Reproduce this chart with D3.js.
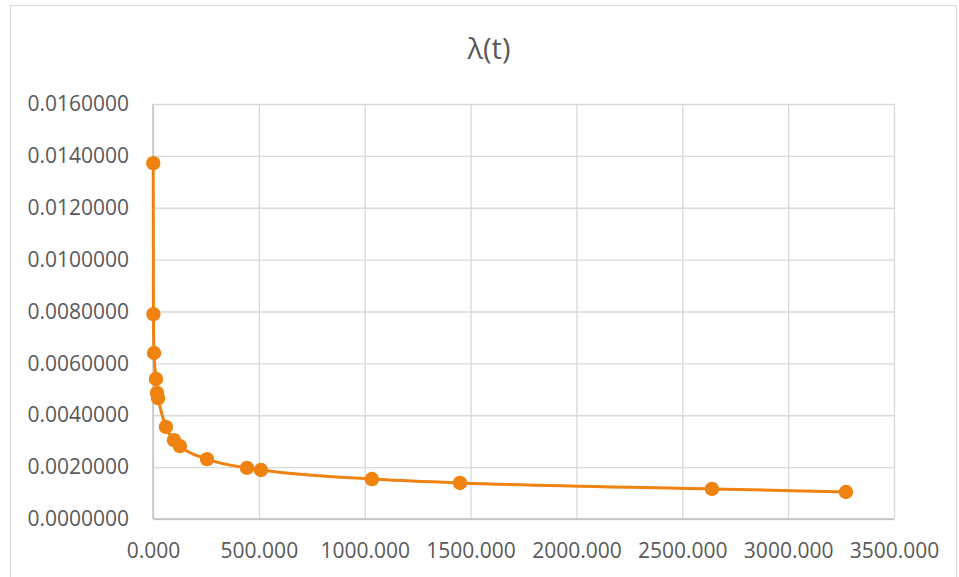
<!DOCTYPE html>
<html>
<head>
<meta charset="utf-8">
<script src="https://cdn.jsdelivr.net/npm/d3@7"></script>
<style>
  html, body { margin: 0; padding: 0; background: #fff; }
  svg { display: block; }
</style>
</head>
<body>
<svg id="chart" width="959" height="577"></svg>
<script>
// Failure-rate estimate λ(t) over time t
const timeValues = [1, 2, 5, 14, 19, 24, 61, 99, 127, 255, 444, 510, 1034, 1450, 2640, 3273];
const lambdaValues = [0.01372, 0.00790, 0.00640, 0.00540, 0.00486, 0.00466, 0.00355, 0.00304, 0.00281, 0.00231, 0.00197, 0.00189, 0.00154, 0.00139, 0.00116, 0.00104];
const xTicks = [0, 500, 1000, 1500, 2000, 2500, 3000, 3500];
const yTicks = [0, 0.002, 0.004, 0.006, 0.008, 0.010, 0.012, 0.014, 0.016];
const chartTitle = "λ(t)";

const svg = d3.select("#chart");
const W = 959, H = 577;
const plot = { left: 153, right: 894, top: 104, bottom: 519 };
const orange = "#f0820f";
const grid = "#d9d9d9";
const textColor = "#595959";
const font = "'Open Sans', 'Liberation Sans', sans-serif";
const labelSize = 21;

// chart frame
svg.append("rect")
  .attr("x", 10.5).attr("y", 5.5)
  .attr("width", W - 13).attr("height", H)
  .attr("fill", "#fff").attr("stroke", "#d9d9d9").attr("stroke-width", 1);

const x = d3.scaleLinear().domain([0, 3500]).range([plot.left, plot.right]);
const y = d3.scaleLinear().domain([0, 0.016]).range([plot.bottom, plot.top]);

// horizontal gridlines + y labels
const yAxis = d3.axisLeft(y).tickValues(yTicks)
  .tickSize(-(plot.right - plot.left))
  .tickPadding(24)
  .tickFormat(d3.format(".7f"));
const gy = svg.append("g").attr("transform", `translate(${plot.left},0)`).call(yAxis);
gy.select(".domain").remove();
gy.selectAll(".tick line").attr("stroke", grid).attr("stroke-width", 1.3);
gy.selectAll(".tick text")
  .attr("fill", textColor).attr("font-family", font).attr("font-size", labelSize);

// vertical gridlines + x labels
const xAxis = d3.axisBottom(x).tickValues(xTicks)
  .tickSize(-(plot.bottom - plot.top))
  .tickPadding(24)
  .tickFormat(d3.format(".3f"));
const gx = svg.append("g").attr("transform", `translate(0,${plot.bottom})`).call(xAxis);
gx.select(".domain").remove();
gx.selectAll(".tick line").attr("stroke", grid).attr("stroke-width", 1.3);
gx.selectAll(".tick text")
  .attr("fill", textColor).attr("font-family", font).attr("font-size", labelSize);

// axis lines
svg.append("line")
  .attr("x1", plot.left).attr("x2", plot.right)
  .attr("y1", plot.bottom).attr("y2", plot.bottom)
  .attr("stroke", "#bfbfbf").attr("stroke-width", 1.3);
svg.append("line")
  .attr("x1", plot.left).attr("x2", plot.left)
  .attr("y1", plot.top).attr("y2", plot.bottom)
  .attr("stroke", "#bfbfbf").attr("stroke-width", 1.3);

// title
svg.append("text")
  .attr("x", 489).attr("y", 59)
  .attr("text-anchor", "middle")
  .attr("fill", textColor).attr("font-family", font).attr("font-size", 29)
  .text(chartTitle);

const data = timeValues.map((t, i) => ({ t, v: lambdaValues[i] }));

// smoothed series line
const line = d3.line()
  .x(d => x(d.t)).y(d => y(d.v))
  .curve(d3.curveMonotoneX);
svg.append("path")
  .datum(data)
  .attr("d", line)
  .attr("fill", "none")
  .attr("stroke", orange)
  .attr("stroke-width", 3);

// markers
svg.append("g").selectAll("circle")
  .data(data)
  .join("circle")
  .attr("cx", d => x(d.t)).attr("cy", d => y(d.v))
  .attr("r", 7.2)
  .attr("fill", orange);
</script>
</body>
</html>
